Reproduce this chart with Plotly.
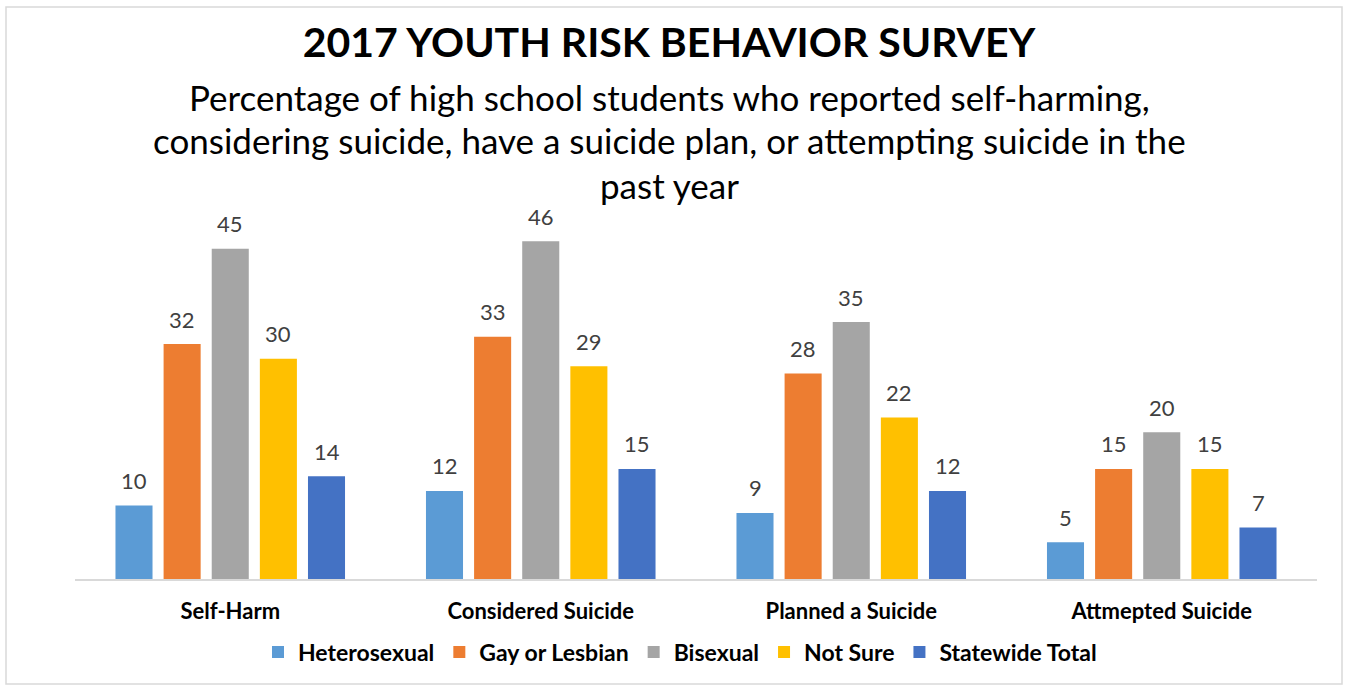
import plotly.graph_objects as go

# Survey categories and response groups
categories = ["Self-Harm", "Considered Suicide", "Planned a Suicide", "Attmepted Suicide"]
groups = ["Heterosexual", "Gay or Lesbian", "Bisexual", "Not Sure", "Statewide Total"]

heterosexual = [10, 12, 9, 5]
gay_or_lesbian = [32, 33, 28, 15]
bisexual = [45, 46, 35, 20]
not_sure = [30, 29, 22, 15]
statewide_total = [14, 15, 12, 7]

series = [heterosexual, gay_or_lesbian, bisexual, not_sure, statewide_total]
colors = ["#5B9BD5", "#ED7D31", "#A5A5A5", "#FFC000", "#4472C4"]

FONT = "Lato"
W, H = 1348, 687
M_L, M_R, M_T, M_B = 75, 31, 212, 108
BARGAP = 0.225
BARGROUPGAP = 0.23

fig = go.Figure()
for name, vals, col in zip(groups, series, colors):
    fig.add_trace(go.Bar(
        name=f"<b>{name}</b>", x=categories, y=vals,
        marker=dict(color=col, line=dict(width=0)),
        hoverinfo="y+name",
    ))

# value labels above each bar, placed at the bar's slot within its group
n = len(groups)
slot = (1 - BARGAP) / n
annotations = []
for gi, vals in enumerate(series):
    offset = (gi - (n - 1) / 2) * slot
    for ci, v in enumerate(vals):
        annotations.append(dict(
            x=ci + offset, y=v, xref="x", yref="y",
            text=str(v), showarrow=False, yshift=25,
            font=dict(family=FONT, size=22, color="#404040"),
        ))

plot_w = W - M_L - M_R
plot_h = H - M_T - M_B


def paper_x(px):
    return (px - M_L) / plot_w


def paper_y(py):
    return (H - M_B - py) / plot_h


subtitle = [
    "Percentage of high school students who reported self-harming,",
    "considering suicide, have a suicide plan, or attempting suicide in the",
    "past year",
]
for line, py in zip(subtitle, [97, 140, 185]):
    annotations.append(dict(
        x=paper_x(669), y=paper_y(py), xref="paper", yref="paper",
        text=line, showarrow=False, xanchor="center", yanchor="middle",
        font=dict(family=FONT, size=35, color="#000000"),
    ))

fig.update_layout(
    width=W, height=H,
    margin=dict(l=M_L, r=M_R, t=M_T, b=M_B),
    paper_bgcolor="white", plot_bgcolor="white",
    barmode="group", bargap=BARGAP, bargroupgap=BARGROUPGAP,
    title=dict(
        text="<b>2017 YOUTH RISK BEHAVIOR SURVEY</b>",
        x=669 / W, xanchor="center", y=1 - 43 / H, yanchor="middle",
        font=dict(family=FONT, size=41, color="#000000"),
    ),
    xaxis=dict(
        showline=True, linecolor="#D9D9D9", linewidth=2,
        showgrid=False, ticks="", ticklabelstandoff=12,
        tickfont=dict(family=FONT, size=22, color="#000000"),
        tickprefix="<b>", ticksuffix="</b>",
    ),
    yaxis=dict(range=[0, 50], visible=False, showgrid=False),
    legend=dict(
        orientation="h", x=paper_x(680), xref="paper", xanchor="center",
        y=paper_y(652), yanchor="middle",
        font=dict(family=FONT, size=23, color="#000000"),
        traceorder="normal",
    ),
    annotations=annotations,
    shapes=[dict(
        type="rect", xref="paper", yref="paper",
        x0=paper_x(6), x1=paper_x(1342),
        y0=paper_y(684), y1=paper_y(7),
        line=dict(color="#D9D9D9", width=1.5), fillcolor="rgba(0,0,0,0)", layer="below",
    )],
    showlegend=True,
)

fig.write_html("out.html")
